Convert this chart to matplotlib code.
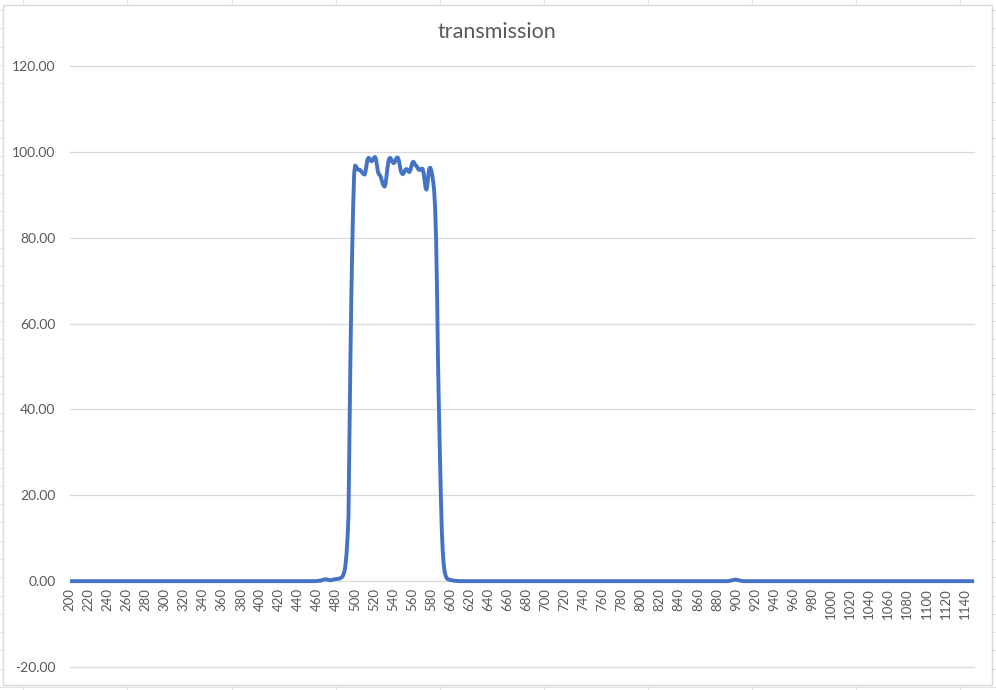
import matplotlib
matplotlib.use("Agg")
import matplotlib.pyplot as plt
from matplotlib.lines import Line2D
from matplotlib.patches import Rectangle
import numpy as np

# ---------------- data ----------------
wavelengths = list(range(200, 1151))          # category axis, 1 nm steps
band_start = 460                              # first wavelength of the typed band values
band_values = [
    0.05, 0.05, 0.1, 0.1, 0.15, 0.2, 0.3, 0.35, 0.4, 0.45,       # 460-469
    0.4, 0.35, 0.3, 0.25, 0.2, 0.25, 0.3, 0.35, 0.4, 0.45,       # 470-479
    0.5, 0.5, 0.55, 0.6, 0.65, 0.75, 0.9, 1.2, 1.7, 2.5,         # 480-489
    4.0, 6.5, 10.0, 15.0, 34.0, 51.0, 66.0, 78.0, 88.0, 95.0,    # 490-499
    96.8, 96.6, 96.2, 95.9, 95.8, 95.8, 95.6, 95.3, 95.0, 94.8,  # 500-509
    94.7, 95.5, 97.0, 98.2, 98.6, 98.5, 98.1, 97.8, 97.9, 98.3,  # 510-519
    98.7, 98.8, 98.2, 96.8, 95.3, 94.8, 94.6, 94.1, 93.3, 92.6,  # 520-529
    92.1, 91.9, 92.6, 94.5, 96.3, 97.8, 98.5, 98.6, 98.2, 97.7,  # 530-539
    97.4, 97.4, 97.8, 98.4, 98.7, 98.6, 97.9, 96.7, 95.5, 95.0,  # 540-549
    94.8, 95.0, 95.5, 95.9, 96.0, 95.8, 95.4, 95.3, 95.7, 96.6,  # 550-559
    97.4, 97.7, 97.5, 97.0, 96.8, 96.5, 96.1, 95.8, 95.8, 95.9,  # 560-569
    96.1, 96.0, 95.0, 93.2, 91.6, 91.2, 92.5, 94.8, 96.2, 96.3,  # 570-579
    95.6, 94.5, 93.0, 91.0, 87.0, 80.0, 68.0, 52.0, 40.0, 30.0,  # 580-589
    20.0, 12.0, 7.0, 4.0, 2.2, 1.3, 0.8, 0.5, 0.4, 0.3,          # 590-599
    0.3, 0.2, 0.2, 0.15, 0.1, 0.1, 0.05, 0.05, 0.05, 0.0, 0.0,   # 600-610
]
bump_start = 893
bump_values = [0.05, 0.1, 0.15, 0.2, 0.25, 0.3, 0.35, 0.35, 0.3, 0.25, 0.2, 0.15, 0.1, 0.05, 0.0]

y_ticks = [-20, 0, 20, 40, 60, 80, 100, 120]
x_tick_values = list(range(200, 1141, 20))
title_text = "transmission"

# transmission: zero outside the read-off regions
transmission = np.zeros(len(wavelengths))
i0 = wavelengths.index(band_start)
transmission[i0:i0 + len(band_values)] = band_values
j0 = wavelengths.index(bump_start)
transmission[j0:j0 + len(bump_values)] = bump_values

# ---------------- figure ----------------
W, H = 996, 690
fig = plt.figure(figsize=(W / 100, H / 100), dpi=100)
fig.patch.set_facecolor("white")

# spreadsheet cell grid behind the chart
cell_col = "#E2E2E2"
for x in [23, 127, 232, 336, 440, 544, 648, 752, 856, 960]:
    fig.add_artist(Line2D([x / W, x / W], [0, 1], color=cell_col, lw=0.8, zorder=0))
yy = 10.0
while yy < H:
    fig.add_artist(Line2D([0, 1], [1 - yy / H, 1 - yy / H], color=cell_col, lw=0.8, zorder=0))
    yy += 18.3

# chart area (white with light border)
cx0, cy0, cx1, cy1 = 3, 5, 992, 685
fig.add_artist(Rectangle((cx0 / W, 1 - cy1 / H), (cx1 - cx0) / W, (cy1 - cy0) / H,
                         facecolor="white", edgecolor="#D9D9D9", lw=1.0, zorder=1))

# plot area
px0, px1 = 69.5, 974.0
py_top, py_bot = 66.0, 667.0
ax = fig.add_axes([px0 / W, 1 - py_bot / H, (px1 - px0) / W, (py_bot - py_top) / H], zorder=2)
ax.set_facecolor("none")

font = ["Lato", "DejaVu Sans"]
txt_col = "#595959"

ax.plot(wavelengths, transmission, color="#4472C4", lw=2.8,
        solid_capstyle="round", solid_joinstyle="round", zorder=3)

ax.set_xlim(200, 1150)
ax.set_ylim(-20, 120)
ax.set_yticks(y_ticks)
ax.set_yticklabels([f"{v:.2f}" for v in y_ticks], fontsize=10, color=txt_col, family=font)
for v in y_ticks:
    ax.axhline(v, color="#D9D9D9", lw=0.9, zorder=1, clip_on=False)

ax.set_xticks([])
for s in ax.spines.values():
    s.set_visible(False)
ax.tick_params(axis="y", length=0, pad=10)

# category labels under the zero line, rotated
for xv in x_tick_values:
    ax.annotate(str(xv), xy=(xv, 0), xycoords="data", xytext=(0, -7), textcoords="offset pixels",
                rotation=90, ha="center", va="top", fontsize=9.5, color=txt_col, family=font)

fig.text(497 / W, 1 - 32 / H, title_text, ha="center", va="center",
         fontsize=15.5, color=txt_col, family=font)

fig.savefig("out.png", dpi=100, facecolor="white")
